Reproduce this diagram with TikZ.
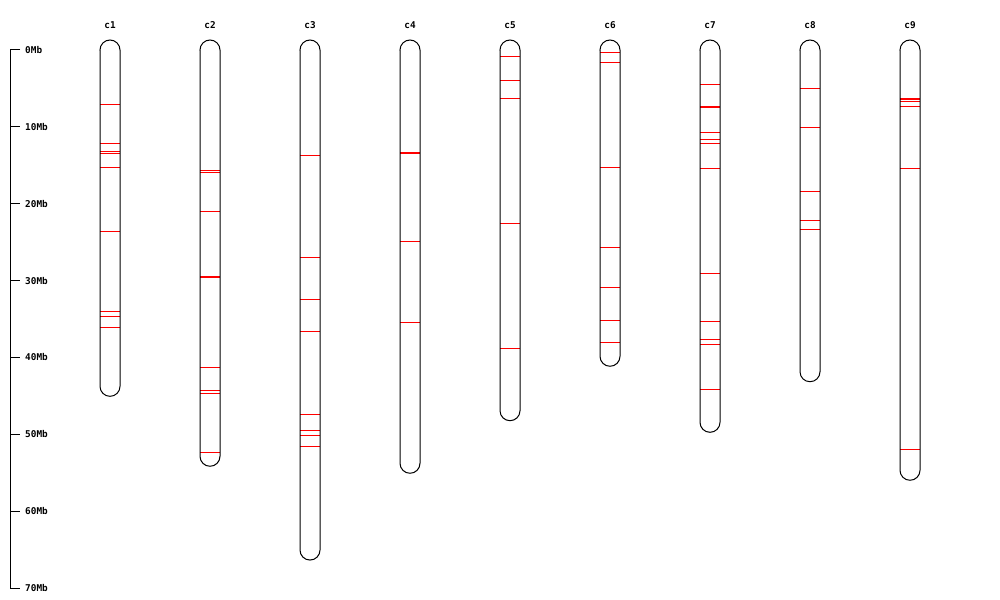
\documentclass[tikz,border=0pt]{standalone}
\usepackage{fontspec}
\setmonofont{DejaVu Sans Mono}
\usepackage{tikz}

\begin{document}
\begin{tikzpicture}[x=0.3mm,y=-0.3mm,
    chrom/.style={draw=black,line width=0.3mm},
    band/.style={draw=red,line width=0.3mm},
    lab/.style={font=\ttfamily\bfseries\fontsize{8}{9}\selectfont,inner sep=0pt}]
    \useasboundingbox (0,0) rectangle (1000,600);

    % scale bar
    \draw[chrom] (20,50) -- (10,50) -- (10,588) -- (20,588);
    \foreach \v in {0,10,...,70}{
        \draw[chrom] (10,{50+7.686*\v}) -- (20,{50+7.686*\v});
        \node[lab,anchor=west] (mb\v) at (25,{50+7.686*\v}) {\v Mb};
    }

    % chromosomes: index / length (Mb) / marker positions (Mb)
    \foreach \i/\len/\marks in {
        1/43.76/{7.07,12.14,13.23,13.53,15.26,23.59,34.00,34.65,36.08},
        2/52.86/{15.65,15.91,20.99,29.43,29.60,41.28,44.28,44.67,52.34},
        3/65.06/{13.70,26.97,32.44,36.60,47.40,49.48,50.13,51.56},
        4/53.77/{13.34,13.49,24.89,35.43},
        5/46.93/{0.82,3.94,6.28,22.55,38.81},
        6/39.85/{0.30,1.60,15.26,25.67,30.88,35.17,38.03},
        7/48.44/{4.46,7.31,7.46,10.71,11.62,12.14,15.39,29.05,35.30,37.64,38.29,44.15},
        8/41.86/{4.98,10.06,18.38,22.16,23.33},
        9/54.68/{6.28,6.47,6.73,7.33,15.39,51.95}}{
        \pgfmathsetmacro{\x}{10+100*\i}
        \node[lab] (c\i) at (\x,25) {c\i};
        \foreach \m in \marks{
            \draw[band] (\x-10,{50+7.686*\m}) -- (\x+10,{50+7.686*\m});
        }
        \draw[chrom] (\x-10,50) -- (\x-10,{50+7.686*\len})
            arc[start angle=180,end angle=360,radius=3mm]
            -- (\x+10,50)
            arc[start angle=0,end angle=180,radius=3mm] -- cycle;
    }
\end{tikzpicture}
\end{document}
